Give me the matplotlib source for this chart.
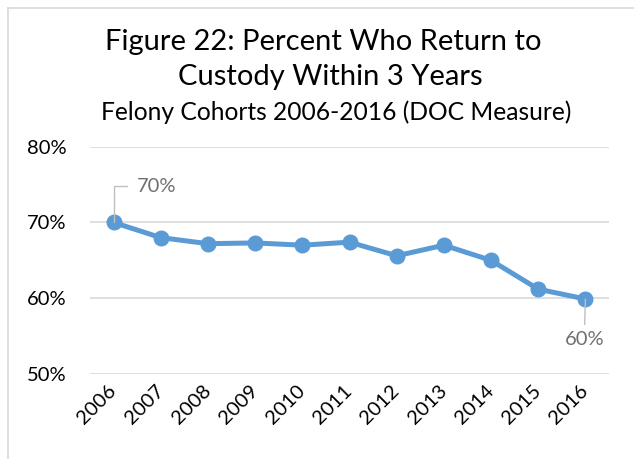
import matplotlib
matplotlib.use('Agg')
import matplotlib.pyplot as plt
import matplotlib.transforms as mtransforms
from matplotlib.lines import Line2D

plt.rcParams['font.family'] = ['Lato', 'DejaVu Sans']

# 数据
years = ['2006', '2007', '2008', '2009', '2010', '2011',
         '2012', '2013', '2014', '2015', '2016']
pct = [70.0, 68.0, 67.2, 67.3, 67.0, 67.4, 65.6, 67.0, 65.0, 61.2, 59.9]
y_ticks = [50, 60, 70, 80]
title_lines = ['Figure 22: Percent Who Return to',
               'Custody Within 3 Years',
               'Felony Cohorts 2006-2016 (DOC Measure)']

W, H = 634, 459
fig = plt.figure(figsize=(W / 100, H / 100), dpi=100)
ax = fig.add_axes([90 / W, 1 - 374 / H, (609 - 90) / W, (374 - 146.7) / H])

# 外框
frame_c = '#d9d9d9'
fig.add_artist(Line2D([8 / W, 8 / W], [0, 1 - 8 / H], color=frame_c, lw=1.2))
fig.add_artist(Line2D([8 / W, 1], [1 - 8 / H, 1 - 8 / H], color=frame_c, lw=1.2))

# 标题
fig.text(323 / W, 1 - 42 / H, title_lines[0], ha='center', va='center', fontsize=21)
fig.text(330 / W, 1 - 77 / H, title_lines[1], ha='center', va='center', fontsize=21)
fig.text(336 / W, 1 - 112 / H, title_lines[2], ha='center', va='center', fontsize=17.7)

x = list(range(len(years)))
ax.plot(x, pct, color='#5b9bd5', lw=3.6, marker='o', markersize=10.5,
        solid_capstyle='round', zorder=3)

ax.set_xlim(-0.5, len(years) - 0.5)
ax.set_ylim(50, 80)
ax.set_yticks(y_ticks)
ax.set_yticklabels([f'{v}%' for v in y_ticks], fontsize=14.5)
ax.set_xticks(x)
ax.set_xticklabels(years, rotation=45, ha='right', va='center',
                   rotation_mode='anchor', fontsize=14.5)
shift = mtransforms.ScaledTranslation(16 / 100, 0, fig.dpi_scale_trans)
for lab in ax.get_xticklabels():
    lab.set_transform(lab.get_transform() + shift)
ax.tick_params(length=0, pad=17)
ax.tick_params(axis='x', pad=10)
ax.grid(axis='y', color='#d9d9d9', lw=1.2)
ax.set_axisbelow(True)
for s in ax.spines.values():
    s.set_visible(False)

# 数据标签
lab_c = '#6f6f6f'
lead_c = '#bfbfbf'
ax.annotate(f'{pct[0]:.0f}%', xy=(x[0], pct[0]), xytext=(23, 36),
            textcoords='offset pixels', ha='left', va='center',
            fontsize=14.5, color=lab_c,
            arrowprops=dict(arrowstyle='-', color=lead_c, lw=1,
                            connectionstyle='angle,angleA=0,angleB=90,rad=0',
                            relpos=(0, 0.5), shrinkA=5, shrinkB=0))
ax.annotate(f'{pct[-1]:.0f}%', xy=(x[-1], pct[-1]), xytext=(-1, -41),
            textcoords='offset pixels', ha='center', va='center',
            fontsize=14.5, color=lab_c,
            arrowprops=dict(arrowstyle='-', color=lead_c, lw=1,
                            relpos=(0.5, 1), shrinkA=3, shrinkB=0))

fig.savefig('out.png', dpi=100)
